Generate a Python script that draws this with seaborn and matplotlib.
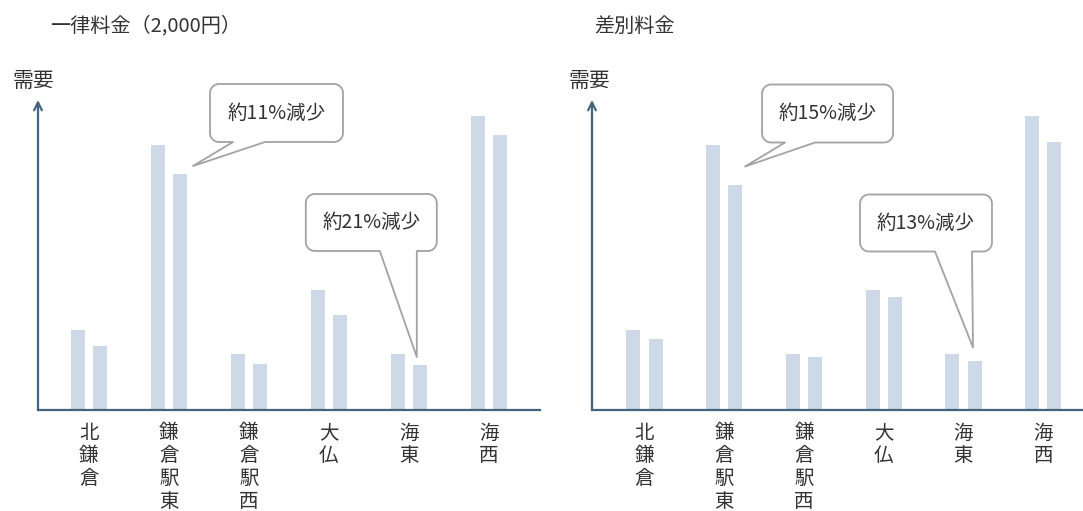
import numpy as np
import pandas as pd
import matplotlib
matplotlib.use("Agg")
import matplotlib.pyplot as plt
import matplotlib.transforms as mtransforms
from matplotlib.patches import Polygon
import seaborn as sns

# --- data -------------------------------------------------------------
stations = ["北鎌倉", "鎌倉駅東", "鎌倉駅西", "大仏", "海東", "海西"]
demand_before = [80, 265, 56.5, 120, 56.5, 294]
demand_flat = [64, 236, 46.5, 95, 45, 275]        # 一律料金（2,000円）
demand_tiered = [71, 225, 53, 113, 49, 268]       # 差別料金
flat_notes = [("鎌倉駅東", 11), ("海東", 21)]
tiered_notes = [("鎌倉駅東", 15), ("海東", 13)]

panel_titles = ["一律料金（2,000円）", "差別料金"]
y_label = "需要"

# --- style ------------------------------------------------------------
sns.set_style("white")
plt.rcParams["font.family"] = ["Noto Sans CJK JP", "DejaVu Sans"]

BAR = "#cdd9e6"
AXIS = "#44637f"
TEXT = "#333333"
EDGE = "#a3a3a3"

W, H = 1083, 511
fig = plt.figure(figsize=(W / 100, H / 100), dpi=100)
fig.patch.set_facecolor("white")


def px_axes(left, right, top, bottom):
    return fig.add_axes([left / W, 1 - bottom / H, (right - left) / W, (bottom - top) / H])


def make_frame(before, after):
    return pd.DataFrame({
        "station": stations * 2,
        "case": ["before"] * len(stations) + ["after"] * len(stations),
        "value": list(before) + list(after),
    })


def callout(ax, tip, box, base, text):
    """Speech-bubble outline whose tail ends at `tip` (data coords).
    box = (left, right, top, bottom) and base = (x1, x2) are pixel offsets from the tip."""
    tx, ty = ax.transData.transform(tip)
    l, r, t, b = box
    b1, b2 = base
    rad = 9
    def arc(cx, cy, a0, a1):
        a = np.linspace(np.radians(a0), np.radians(a1), 10)
        return [(cx + rad * np.cos(v), cy + rad * np.sin(v)) for v in a]
    pts = [(l + rad, b), (b1, b), (0, 0), (b2, b), (r - rad, b)]
    pts += arc(r - rad, b + rad, -90, 0)
    pts += arc(r - rad, t - rad, 0, 90)
    pts += arc(l + rad, t - rad, 90, 180)
    pts += arc(l + rad, b + rad, 180, 270)
    pts = [(tx + x, ty + y) for x, y in pts]
    poly = Polygon(pts, closed=True, facecolor="white", edgecolor=EDGE, lw=1.3,
                   transform=mtransforms.IdentityTransform(), zorder=5, joinstyle="round")
    fig.add_artist(poly)
    cx, cy = fig.transFigure.inverted().transform((tx + (l + r) / 2, ty + (t + b) / 2))
    fig.text(cx, cy, text, ha="center", va="center", fontsize=14, color=TEXT, zorder=6)


def draw_panel(ax, after, title, title_x, ylab_x, xlim, notes_layout):
    df = make_frame(demand_before, after)
    sns.barplot(data=df, x="station", y="value", hue="case", palette=[BAR, BAR],
                width=0.56, gap=0.375, saturation=1, legend=False, ax=ax,
                edgecolor="none", linewidth=0)
    ax.set_xlim(*xlim)
    ax.set_ylim(0, 310)
    ax.set_xlabel("")
    ax.set_ylabel("")
    ax.set_yticks([])
    ax.set_xticks(range(len(stations)))
    ax.set_xticklabels(["\n".join(s) for s in stations], fontsize=14, color=TEXT,
                       linespacing=1.12, va="top")
    ax.tick_params(axis="x", length=0, pad=9)
    for side in ["top", "right", "left"]:
        ax.spines[side].set_visible(False)
    ax.spines["bottom"].set_color(AXIS)
    ax.spines["bottom"].set_linewidth(1.6)
    ax.annotate("", xy=(0, 1), xytext=(0, 0), xycoords="axes fraction",
                arrowprops=dict(arrowstyle="->", color=AXIS, lw=1.6, mutation_scale=14,
                                shrinkA=0, shrinkB=0))
    fig.text(title_x / W, 1 - 26 / H, title, fontsize=14.5, color=TEXT, va="center", ha="left")
    fig.text(ylab_x / W, 1 - 81 / H, y_label, fontsize=15, color=TEXT, va="center", ha="center")
    for text, (tip, box, base) in notes_layout:
        callout(ax, tip, box, base, text)


ax1 = px_axes(38, 540, 100, 410)
ax2 = px_axes(592, 1083, 100, 410)

layout_flat = [
    ((1.3025, 244), (17, 150, 82, 24), (40, 72)),
    ((4.10, 53), (-111, 20, 163, 106), (-37, 0)),
]
layout_tiered = [
    ((1.261, 243.5), (17, 148, 82, 24), (40, 70)),
    ((4.12, 62.5), (-113, 19, 153, 96), (-38, -1)),
]

draw_panel(ax1, demand_flat, panel_titles[0], 50, 33, (-0.635, 5.64),
           [(f"約{p}%減少", lay) for (_, p), lay in zip(flat_notes, layout_flat)])
draw_panel(ax2, demand_tiered, panel_titles[1], 594, 589, (-0.659, 5.50),
           [(f"約{p}%減少", lay) for (_, p), lay in zip(tiered_notes, layout_tiered)])

fig.savefig("out.png", dpi=100, facecolor="white")
